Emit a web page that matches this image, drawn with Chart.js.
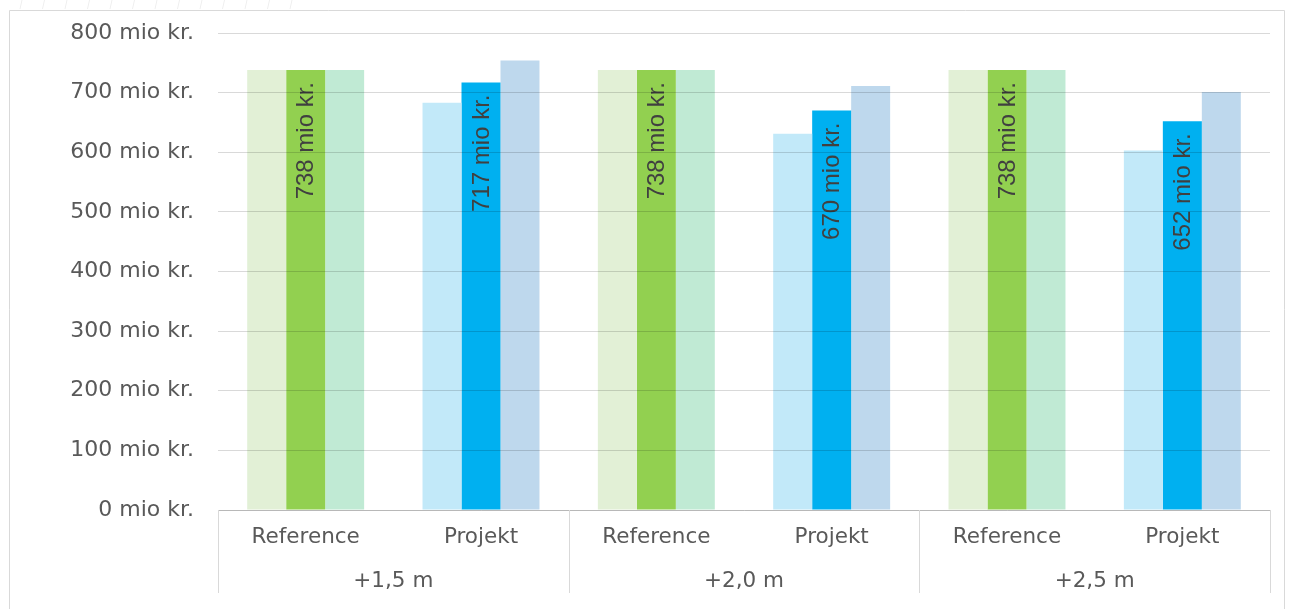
<!DOCTYPE html>
<html>
<head>
<meta charset="utf-8">
<script src="https://cdn.jsdelivr.net/npm/chart.js@4/dist/chart.umd.min.js"></script>
<style>
  html, body { margin: 0; padding: 0; background: #fff; }
  #wrap { width: 1290px; height: 609px; position: relative; }
</style>
</head>
<body>
<div id="wrap"><canvas id="chart"></canvas></div>
<script>
// categories and groups
const categories = ['Reference', 'Projekt', 'Reference', 'Projekt', 'Reference', 'Projekt'];
const groups = ['+1,5 m', '+2,0 m', '+2,5 m'];

// values in mio kr. (left light bar, middle bar with label, right light bar)
const lowValues = [738, 683, 738, 631, 738, 603];
const midValues = [738, 717, 738, 670, 738, 652];
const highValues = [738, 754, 738, 711, 738, 701];

const yTicks = [0, 100, 200, 300, 400, 500, 600, 700, 800];

const gridGrey = '#d9d9d9';
const textGrey = '#595959';

function colorsFor(refColor, projColor){
    return categories.map(c => c === 'Reference' ? refColor : projColor);
}

// frame round the chart and faint hatch at the top
const framePlugin = {
    id: 'frame',
    beforeDraw(chart){
        const ctx = chart.ctx;
        ctx.save();
        ctx.strokeStyle = '#efefef';
        ctx.lineWidth = 1;
        for (let x = 20; x < 310; x += 22.5){
            ctx.beginPath();
            ctx.moveTo(x, 9);
            ctx.lineTo(x + 2, 0);
            ctx.stroke();
        }
        ctx.strokeStyle = gridGrey;
        ctx.beginPath();
        ctx.moveTo(9.5, 609);
        ctx.lineTo(9.5, 10.5);
        ctx.lineTo(1284.5, 10.5);
        ctx.lineTo(1284.5, 609);
        ctx.stroke();
        ctx.restore();
    }
};

// group separators under the x axis
const separatorPlugin = {
    id: 'separators',
    afterDraw(chart){
        const x = chart.scales.x;
        const ctx = chart.ctx;
        ctx.save();
        ctx.strokeStyle = gridGrey;
        ctx.lineWidth = 1;
        for (let i = 0; i <= categories.length; i += 2){
            const px = Math.round(x.getPixelForValue(i - 0.5)) + 0.5;
            ctx.beginPath();
            ctx.moveTo(px, chart.chartArea.bottom);
            ctx.lineTo(px, 593);
            ctx.stroke();
        }
        ctx.restore();
    }
};

// rotated value labels in the middle bars
const valueLabelPlugin = {
    id: 'valueLabels',
    afterDatasetsDraw(chart){
        const meta = chart.getDatasetMeta(1);
        const ctx = chart.ctx;
        ctx.save();
        ctx.fillStyle = '#404040';
        ctx.font = '24px "Liberation Sans"';
        ctx.textAlign = 'right';
        ctx.textBaseline = 'middle';
        meta.data.forEach((bar, i) => {
            ctx.save();
            ctx.translate(bar.x + 1, bar.y + 12);
            ctx.rotate(-Math.PI / 2);
            ctx.fillText(midValues[i] + ' mio kr.', 0, 0);
            ctx.restore();
        });
        ctx.restore();
    }
};

const data = {
    labels: categories,
    datasets: [
        {
            label: 'low',
            data: lowValues,
            backgroundColor: colorsFor('rgb(226, 240, 214)', 'rgb(194, 233, 249)')
        },
        {
            label: 'mid',
            data: midValues,
            backgroundColor: colorsFor('rgb(146, 208, 80)', 'rgb(0, 176, 240)')
        },
        {
            label: 'high',
            data: highValues,
            backgroundColor: colorsFor('rgb(192, 234, 212)', 'rgb(190, 216, 237)')
        }
    ]
};

const config = {
    type: 'bar',
    data: data,
    options: {
        responsive: false,
        animation: false,
        categoryPercentage: 0.667,
        barPercentage: 1,
        layout: { padding: { left: 10, right: 20, top: 33, bottom: 0 } },
        plugins: {
            legend: { display: false },
            tooltip: { enabled: false }
        },
        scales: {
            y: {
                min: 0,
                max: 800,
                afterBuildTicks: s => { s.ticks = yTicks.map(v => ({ value: v })); },
                afterFit: s => { s.width = 208; s.paddingTop = 0; s.paddingBottom = 0; },
                border: { display: false },
                grid: { color: 'rgba(0, 0, 0, 0.15)', drawTicks: false, z: 1 },
                ticks: {
                    padding: 24,
                    color: textGrey,
                    font: { family: 'DejaVu Sans', size: 22 },
                    callback: v => v + ' mio kr.'
                }
            },
            x: {
                afterFit: s => { s.height = 48; },
                border: { color: gridGrey },
                grid: { display: false, drawTicks: false },
                ticks: {
                    padding: 15,
                    color: textGrey,
                    maxRotation: 0,
                    font: { family: 'DejaVu Sans', size: 21.5 }
                }
            },
            x2: {
                type: 'category',
                position: 'bottom',
                labels: groups,
                offset: true,
                afterFit: s => { s.height = 51; },
                border: { display: false },
                grid: { display: false, drawTicks: false },
                ticks: {
                    padding: 11,
                    color: textGrey,
                    maxRotation: 0,
                    font: { family: 'DejaVu Sans', size: 21.5 }
                }
            }
        }
    },
    plugins: [framePlugin, separatorPlugin, valueLabelPlugin]
};

const canvas = document.getElementById('chart');
canvas.width = 1290;
canvas.height = 609;
new Chart(canvas, config);
</script>
</body>
</html>
